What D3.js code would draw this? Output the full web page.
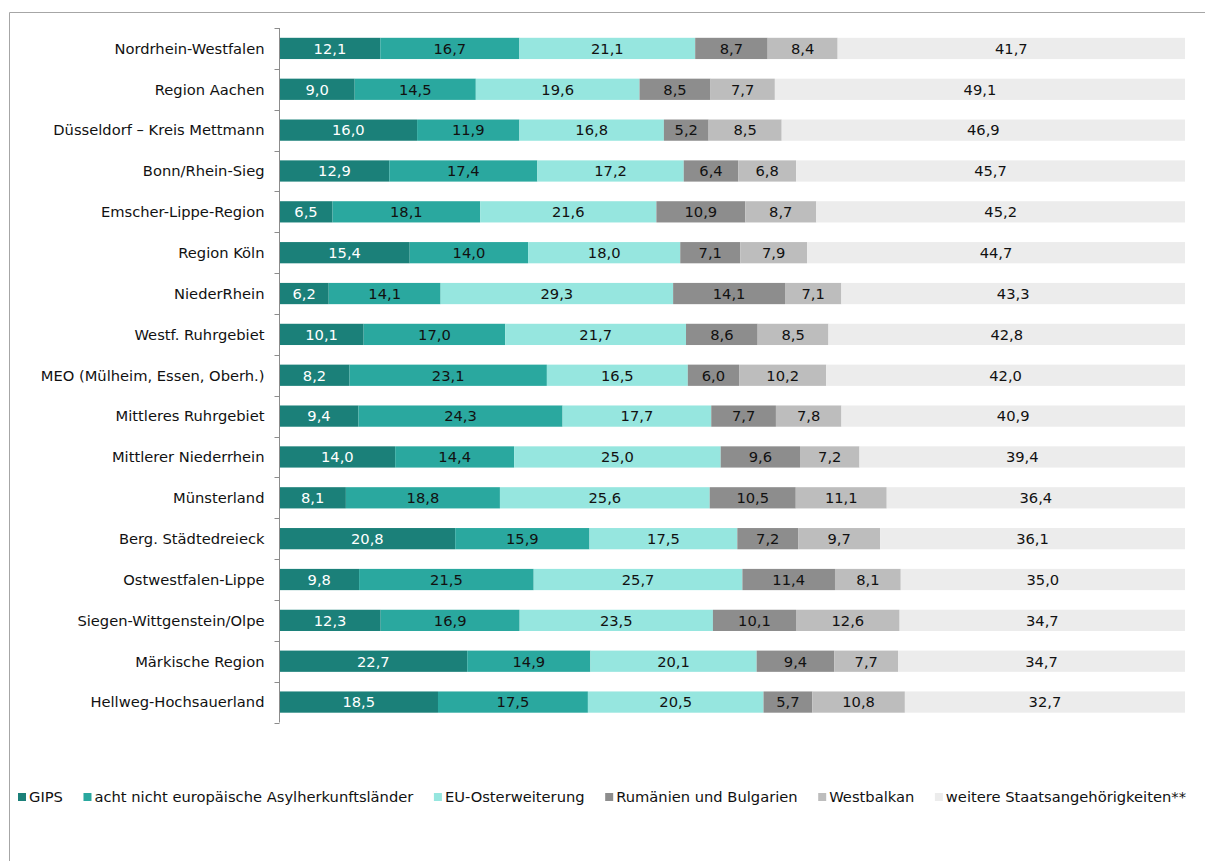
<!DOCTYPE html>
<html><head><meta charset="utf-8">
<script src="https://cdn.jsdelivr.net/npm/d3@7"></script>
<style>
html,body{margin:0;padding:0;background:#fff;}
svg text{font-family:"DejaVu Sans",sans-serif;}
</style></head>
<body><svg id="c" width="1205" height="861"></svg>
<script>
const categories = ["Nordrhein-Westfalen","Region Aachen","Düsseldorf – Kreis Mettmann","Bonn/Rhein-Sieg","Emscher-Lippe-Region","Region Köln","NiederRhein","Westf. Ruhrgebiet","MEO (Mülheim, Essen, Oberh.)","Mittleres Ruhrgebiet","Mittlerer Niederrhein","Münsterland","Berg. Städtedreieck","Ostwestfalen-Lippe","Siegen-Wittgenstein/Olpe","Märkische Region","Hellweg-Hochsauerland"];
const seriesNames = ["GIPS","acht nicht europäische Asylherkunftsländer","EU-Osterweiterung","Rumänien und Bulgarien","Westbalkan","weitere Staatsangehörigkeiten**"];
const gips      = [12.1,9.0,16.0,12.9,6.5,15.4,6.2,10.1,8.2,9.4,14.0,8.1,20.8,9.8,12.3,22.7,18.5];
const asyl      = [16.7,14.5,11.9,17.4,18.1,14.0,14.1,17.0,23.1,24.3,14.4,18.8,15.9,21.5,16.9,14.9,17.5];
const euOst     = [21.1,19.6,16.8,17.2,21.6,18.0,29.3,21.7,16.5,17.7,25.0,25.6,17.5,25.7,23.5,20.1,20.5];
const rumBul    = [8.7,8.5,5.2,6.4,10.9,7.1,14.1,8.6,6.0,7.7,9.6,10.5,7.2,11.4,10.1,9.4,5.7];
const westbalk  = [8.4,7.7,8.5,6.8,8.7,7.9,7.1,8.5,10.2,7.8,7.2,11.1,9.7,8.1,12.6,7.7,10.8];
const weitere   = [41.7,49.1,46.9,45.7,45.2,44.7,43.3,42.8,42.0,40.9,39.4,36.4,36.1,35.0,34.7,34.7,32.7];
const colors = ["#1b8079","#2aa89f","#96e6df","#8d8d8d","#bdbdbd","#ececec"];
const textColors = ["#ffffff","#111111","#111111","#111111","#111111","#111111"];

const series = [gips, asyl, euOst, rumBul, westbalk, weitere];
const rows = categories.map((c,i)=>{
  const vals = series.map(s=>s[i]);
  const total = d3.sum(vals);
  let cum = 0;
  const segs = vals.map((v,k)=>{ const s={k, v, x0:cum/total, x1:(cum+v)/total}; cum+=v; return s;});
  return {c, segs};
});

const FS = "14.7px";
const svg = d3.select("#c");
// outer border
svg.append("path").attr("d","M9.5,861 L9.5,12.5 L1205,12.5").attr("fill","none").attr("stroke","#a6a6a6").attr("stroke-width",1);

const x = d3.scaleLinear().domain([0,1]).range([279.5,1185]);
const y = d3.scaleBand().domain(categories).range([28,722.5]).paddingInner(0.48).paddingOuter(0.24);

const g = svg.append("g");
const rowG = g.selectAll("g.row").data(rows).join("g").attr("class","row")
  .attr("transform", d=>`translate(0,${y(d.c)})`);
rowG.selectAll("rect").data(d=>d.segs).join("rect")
  .attr("x", d=>x(d.x0)).attr("width", d=>x(d.x1)-x(d.x0))
  .attr("y",0).attr("height", y.bandwidth())
  .attr("fill", d=>colors[d.k]);
rowG.selectAll("text").data(d=>d.segs).join("text")
  .attr("x", d=>(x(d.x0)+x(d.x1))/2).attr("y", y.bandwidth()/2)
  .attr("dy","0.36em").attr("text-anchor","middle")
  .attr("font-size",FS).attr("fill", d=>textColors[d.k])
  .text(d=>d3.format(".1f")(d.v).replace(".",","));

// axis
const axisG = svg.append("g").attr("transform","translate(279.5,0)");
const bounds = d3.range(categories.length+1).map(i=>28 + i*(694.5/categories.length));
axisG.append("line").attr("x1",0).attr("x2",0).attr("y1",bounds[0]).attr("y2",bounds[bounds.length-1]).attr("stroke","#8c8c8c");
axisG.selectAll("line.tick").data(bounds).join("line").attr("class","tick")
  .attr("x1",-5).attr("x2",0).attr("y1",d=>Math.round(d)+0.5).attr("y2",d=>Math.round(d)+0.5).attr("stroke","#8c8c8c");
axisG.selectAll("text.lab").data(categories).join("text").attr("class","lab")
  .attr("x",-15).attr("y",d=>y(d)+y.bandwidth()/2).attr("dy","0.36em")
  .attr("text-anchor","end").attr("font-size",FS).attr("fill","#111").text(d=>d);

// legend
const leg = svg.append("g").attr("transform","translate(0,797)");
const items = leg.selectAll("g").data(seriesNames).join("g");
items.append("rect").attr("x",0).attr("y",-4).attr("width",8).attr("height",8).attr("fill",(d,i)=>colors[i]);
items.append("text").attr("x",11).attr("dy","0.36em").attr("font-size",FS).attr("fill","#111").text(d=>d);
const widths = [];
items.each(function(){ widths.push(this.querySelector("text").getComputedTextLength()+11); });
const totalW = d3.sum(widths);
const gap = (1186-18-totalW)/(seriesNames.length-1);
let cx = 18;
items.attr("transform",(d,i)=>{ const t=`translate(${cx},0)`; cx += widths[i]+gap; return t; });
</script></body></html>
